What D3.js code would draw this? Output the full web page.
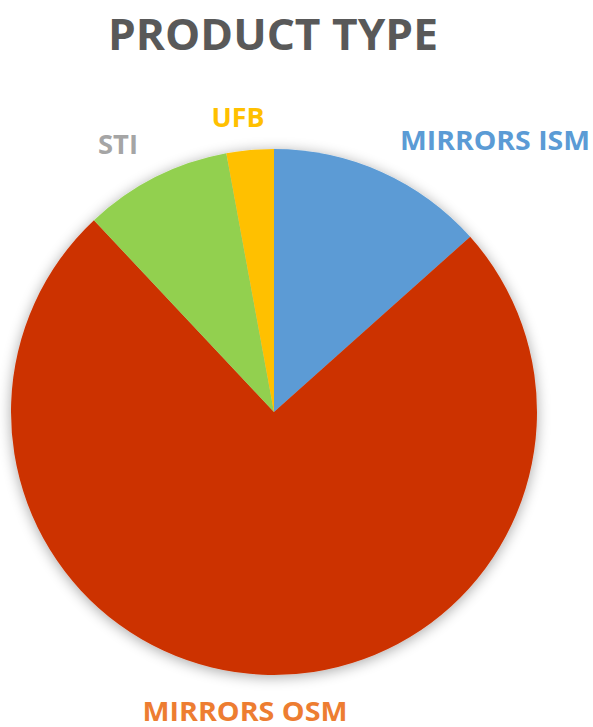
<!DOCTYPE html>
<html lang="en">
<head>
<meta charset="UTF-8">
<title>Product type</title>
<script src="https://d3js.org/d3.v7.min.js"></script>
<style>
  body { margin: 0; background: #fff; }
  text { font-family: "Open Sans", sans-serif; font-weight: 700; }
</style>
</head>
<body>
<div id="container"></div>
<script>
// Données
const categories = ["MIRRORS ISM", "MIRRORS OSM", "STI", "UFB"];
const values = [13.4, 74.6, 9.1, 2.9];
const sliceColors = ["#5b9bd5", "#cc3300", "#92d050", "#ffc000"];
const labelColors = ["#5b9bd5", "#ed7d31", "#a5a5a5", "#ffc000"];

// Dimensions
const width = 593;
const height = 727;
const cx = 274, cy = 412, radius = 263;

// Position des étiquettes (centre, ligne de base) et largeur
const labelPos = {
  "MIRRORS ISM": [495, 150, 190],
  "MIRRORS OSM": [245, 721, 205],
  "STI": [118, 154, 40],
  "UFB": [238, 127, 53]
};

const svg = d3.select("#container")
  .append("svg")
  .attr("width", width)
  .attr("height", height);

// Ombre portée
const defs = svg.append("defs");
const filter = defs.append("filter")
  .attr("id", "shadow")
  .attr("x", "-20%").attr("y", "-20%")
  .attr("width", "140%").attr("height", "140%");
filter.append("feGaussianBlur").attr("in", "SourceAlpha").attr("stdDeviation", 7);
filter.append("feOffset").attr("dx", 0).attr("dy", 2).attr("result", "blur");
filter.append("feComponentTransfer").call(f => f.append("feFuncA").attr("type", "linear").attr("slope", 0.35));
filter.append("feMerge").call(m => {
  m.append("feMergeNode");
  m.append("feMergeNode").attr("in", "SourceGraphic");
});

// Titre
svg.append("text")
  .attr("x", 273)
  .attr("y", 50)
  .attr("text-anchor", "middle")
  .attr("font-size", 43)
  .attr("fill", "#595959")
  .attr("textLength", 330)
  .attr("lengthAdjust", "spacingAndGlyphs")
  .text("PRODUCT TYPE");

const color = d3.scaleOrdinal().domain(categories).range(sliceColors);
const labelColor = d3.scaleOrdinal().domain(categories).range(labelColors);

const pie = d3.pie().sort(null).value(d => d.value);
const arc = d3.arc().innerRadius(0).outerRadius(radius);
const data = categories.map((c, i) => ({ name: c, value: values[i] }));

const g = svg.append("g")
  .attr("transform", `translate(${cx},${cy})`)
  .attr("filter", "url(#shadow)");

g.selectAll("path")
  .data(pie(data))
  .join("path")
  .attr("d", arc)
  .attr("fill", d => color(d.data.name));

// Étiquettes
svg.append("g")
  .selectAll("text")
  .data(data)
  .join("text")
  .attr("x", d => labelPos[d.name][0])
  .attr("y", d => labelPos[d.name][1])
  .attr("text-anchor", "middle")
  .attr("font-size", 26)
  .attr("fill", d => labelColor(d.name))
  .attr("textLength", d => labelPos[d.name][2])
  .attr("lengthAdjust", "spacingAndGlyphs")
  .text(d => d.name);
</script>
</body>
</html>
